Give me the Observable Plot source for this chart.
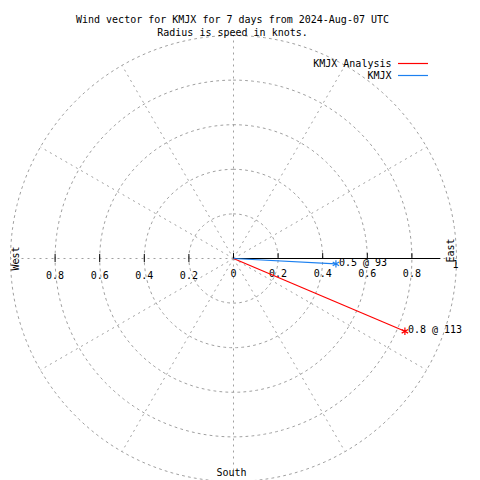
<!DOCTYPE html>
<html><head><meta charset="utf-8">
<script src="https://cdn.jsdelivr.net/npm/d3@7"></script>
<script src="https://cdn.jsdelivr.net/npm/@observablehq/plot@0.6"></script>
<style>body{margin:0;background:#fff} svg{display:block}</style>
</head><body><div id="chart"></div>
<script>
const titleLines = ["Wind vector for KMJX for 7 days from 2024-Aug-07 UTC", "Radius is speed in knots."];
const seriesNames = ["KMJX Analysis", "KMJX"];
const seriesColors = ["#ff0000", "#1c80f0"];
const speeds = [0.835, 0.46];
const directions = [113, 93];
const ringRadii = [0.2, 0.4, 0.6, 0.8, 1.0];
const spokeBearings = [0, 30, 60, 90, 120, 150, 180, 210, 240, 270, 300, 330];
const rightTicks = [0, 0.2, 0.4, 0.6, 0.8];
const rightTickLabels = ["0", "0.2", "0.4", "0.6", "0.8"];
const leftTicks = [0.2, 0.4, 0.6, 0.8];
const leftTickLabels = ["0.2", "0.4", "0.6", "0.8"];
const axisEndLabel = "1";
const compassLabels = ["West", "East", "South"];

const rad = d => d * Math.PI / 180;
const px = (r, b) => r * Math.sin(rad(b));
const py = (r, b) => r * Math.cos(rad(b));

const ringPts = ringRadii.flatMap(r => d3.range(0, 361, 2).map(b => ({r, x: px(r, b), y: py(r, b)})));
const spokes = spokeBearings.map(b => ({x2: px(1, b), y2: py(1, b)}));
const vectors = seriesNames.map((name, i) => ({
  name, color: seriesColors[i], s: speeds[i], dir: directions[i],
  x: px(speeds[i], directions[i]), y: py(speeds[i], directions[i]),
  label: d3.format(".1f")(speeds[i]) + " @ " + directions[i]
}));

const grid = {stroke: "#a0a0a0", strokeWidth: 1, strokeDasharray: "2,4"};

// legend sample lines as a custom render mark
function legendLines(index, scales, values, dimensions, context) {
  const g = d3.create("svg:g");
  seriesColors.forEach((c, i) => {
    g.append("line").attr("x1", 398).attr("x2", 428)
      .attr("y1", 63.5 + 12 * i).attr("y2", 63.5 + 12 * i)
      .style("stroke", c).style("stroke-width", 1.2);
  });
  return g.node();
}

const plot = Plot.plot({
  width: 480, height: 480,
  marginTop: 0, marginRight: 0, marginBottom: 0, marginLeft: 0,
  x: {domain: [-1, 1], range: [10, 456]},
  y: {domain: [-1, 1], range: [481, 35]},
  axis: null,
  style: {fontFamily: "DejaVu Sans Mono, monospace", fontSize: "10px", background: "#fff"},
  marks: [
    Plot.line(ringPts, {x: "x", y: "y", z: "r", ...grid}),
    Plot.link(spokes, {x1: 0, y1: 0, x2: "x2", y2: "y2", ...grid}),
    Plot.ruleY([0], {x1: 0, x2: 0.93, stroke: "black", strokeWidth: 1}),
    Plot.ruleX(rightTicks, {x: d => d, y1: 0, y2: 0.022, stroke: "black"}),
    Plot.ruleX(leftTicks, {x: d => -d, y1: -0.018, y2: 0.018, stroke: "black"}),
    Plot.text(rightTicks, {x: d => d, y: 0, text: (d, i) => rightTickLabels[i], dy: 15, fill: "black", fontSize: 10}),
    Plot.text(leftTicks, {x: d => -d, y: 0, text: (d, i) => leftTickLabels[i], dy: 17, fill: "black", fontSize: 10}),
    Plot.text([axisEndLabel], {x: 1, y: 0, text: d => d, dx: -1, dy: 6, fill: "black", fontSize: 10}),
    Plot.text([compassLabels[0]], {x: px(0.978, 270), y: 0, text: d => d, rotate: -90, fill: "black", fontSize: 10}),
    Plot.text([compassLabels[1]], {x: px(0.975, 90), y: 0, text: d => d, rotate: -90, dy: -8, fill: "black", fontSize: 10}),
    Plot.text([compassLabels[2]], {x: 0, y: py(0.96, 180), text: d => d, dx: -2, fill: "black", fontSize: 10}),
    Plot.link(vectors, {x1: 0, y1: 0, x2: "x", y2: "y", stroke: d => d.color, strokeWidth: 1.2}),
    Plot.dot(vectors, {x: "x", y: "y", symbol: "asterisk", r: 3.5, stroke: d => d.color, strokeWidth: 1.2}),
    Plot.text(vectors, {x: "x", y: "y", text: "label", textAnchor: "start", dx: 3, dy: -1, fill: "black", fontSize: 10}),
    Plot.text([titleLines[0]], {frameAnchor: "top", text: d => d, dx: -8, dy: 19, lineAnchor: "middle", fill: "black", fontSize: 10}),
    Plot.text([titleLines[1]], {frameAnchor: "top", text: d => d, dx: -8, dy: 32, lineAnchor: "middle", fill: "black", fontSize: 10}),
    Plot.text([seriesNames[0]], {frameAnchor: "top-right", text: d => d, textAnchor: "end", dx: -89, dy: 63, lineAnchor: "middle", fill: "black", fontSize: 10}),
    Plot.text([seriesNames[1]], {frameAnchor: "top-right", text: d => d, textAnchor: "end", dx: -89, dy: 75, lineAnchor: "middle", fill: "black", fontSize: 10}),
    legendLines
  ]
});

document.getElementById("chart").append(plot);
</script>
</body></html>
